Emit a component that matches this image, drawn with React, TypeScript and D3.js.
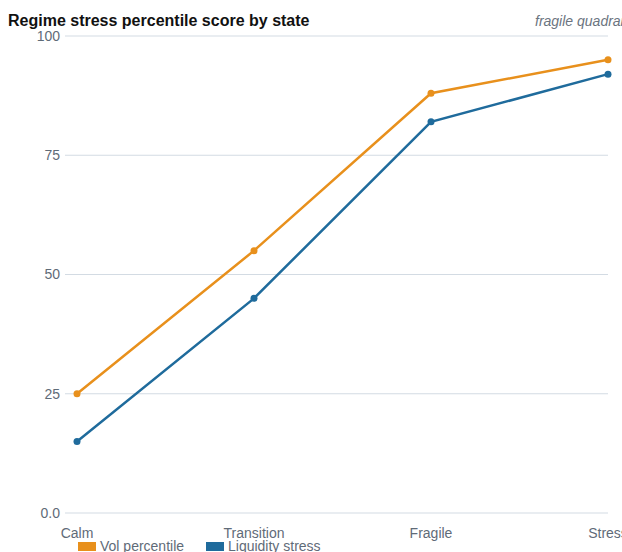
import React from "react";
import * as d3 from "d3";

const categories = ["Calm", "Transition", "Fragile", "Stress"];
const volPercentile = [25, 55, 88, 95];
const liquidityStress = [15, 45, 82, 92];
const yTicks = [0, 25, 50, 75, 100];
const seriesNames = ["Vol percentile", "Liquidity stress"];
const seriesColors = ["#E8901C", "#1F6B9C"];

export default function App() {
  const W = 622, H = 552;
  const x = d3.scalePoint<string>().domain(categories).range([77, 608]).padding(0);
  const y = d3.scaleLinear().domain([0, 100]).range([513, 36]);
  const line = d3
    .line<number>()
    .x((_, i) => x(categories[i]) as number)
    .y((d) => y(d));
  const series = [volPercentile, liquidityStress];
  const font = "Liberation Sans, Arial, sans-serif";
  return (
    <svg width={W} height={H} style={{ position: "absolute", left: 0, top: 0, display: "block" }} fontFamily={font}>
      <text x={8} y={26} fontSize={16} fontWeight="bold" fill="#111">
        Regime stress percentile score by state
      </text>
      <text x={535} y={26} fontSize={14} fontStyle="italic" fill="#6b7480">
        fragile quadrant
      </text>
      {yTicks.map((t) => (
        <g key={t}>
          <line x1={65} x2={608} y1={y(t)} y2={y(t)} stroke="#d3dbe3" strokeWidth={1} />
          <text x={60} y={y(t)} dy="0.35em" textAnchor="end" fontSize={14} fill="#5f6b78">
            {t === 0 ? "0.0" : t}
          </text>
        </g>
      ))}
      {categories.map((c) => (
        <text key={c} x={x(c)} y={538} textAnchor="middle" fontSize={14} fill="#5f6b78">
          {c}
        </text>
      ))}
      {series.map((s, si) => (
        <g key={si}>
          <path d={line(s) || ""} fill="none" stroke={seriesColors[si]} strokeWidth={2.5} />
          {s.map((v, i) => (
            <circle key={i} cx={x(categories[i])} cy={y(v)} r={3.5} fill={seriesColors[si]} />
          ))}
        </g>
      ))}
      {seriesNames.map((n, i) => {
        const lx = [78, 206][i];
        return (
          <g key={n}>
            <rect x={lx} y={542} width={18} height={9} fill={seriesColors[i]} />
            <text x={lx + 22} y={551} fontSize={14} fill="#5f6b78">
              {n}
            </text>
          </g>
        );
      })}
    </svg>
  );
}
